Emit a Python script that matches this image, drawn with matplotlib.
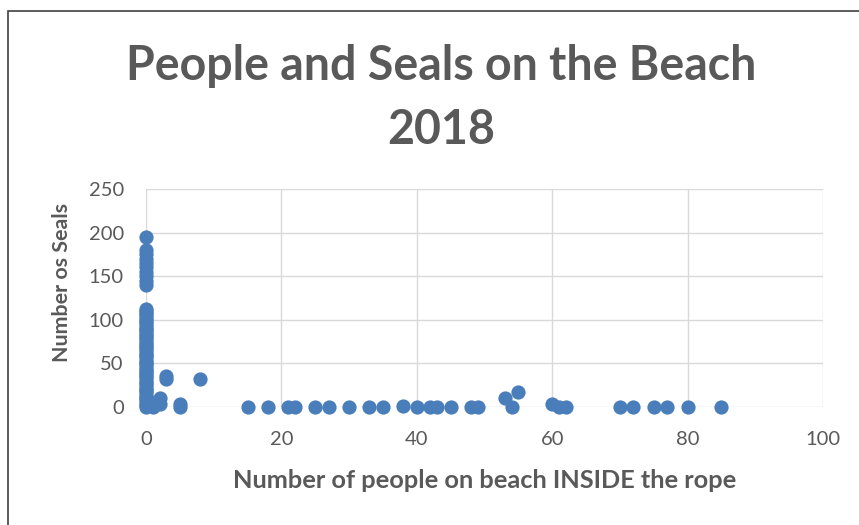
import numpy as np
import matplotlib
matplotlib.use('Agg')
import matplotlib.pyplot as plt
from matplotlib.patches import Rectangle

# people inside the rope vs number of seals
people = [0]*56 + [1, 1, 2, 2, 3, 3, 5, 5, 8,
          15, 18, 21, 22, 25, 27, 30, 33, 35, 38, 40, 42, 43, 45, 48, 49,
          53, 54, 55, 60, 61, 62, 70, 72, 75, 77, 80, 85]
seals = [0, 2, 5, 8, 10, 12, 15, 18, 20, 22, 25, 28, 30, 33, 35, 38, 40, 42,
         45, 48, 50, 52, 55, 58, 60, 62, 65, 68, 70, 72, 75, 78, 80, 82, 85,
         88, 90, 92, 95, 98, 100, 102, 105, 108, 110, 112,
         140, 145, 150, 155, 160, 165, 170, 175, 180, 195,
         0, 5, 10, 3, 32, 36, 0, 4, 32,
         0, 0, 0, 0, 0, 0, 0, 0, 0, 1, 0, 0, 0, 0, 0, 0,
         10, 0, 17, 3, 0, 0, 0, 0, 0, 0, 0, 0]

xticks = [0, 20, 40, 60, 80, 100]
yticks = [0, 50, 100, 150, 200, 250]

grey = '#595959'
plt.rcParams['font.family'] = ['Lato', 'DejaVu Sans']
fig = plt.figure(figsize=(8.59, 5.25), dpi=100)
fig.patches.append(Rectangle((8/859, -0.5), 2, 0.5 + 1 - 11/525, transform=fig.transFigure,
                             fill=False, edgecolor='#404040', linewidth=1.2))

ax = fig.add_axes([146/859, 1 - 407/525, (823 - 146)/859, (407 - 189)/525])
ax.scatter(people, seals, s=105, color='#4a7ebb', zorder=3, linewidths=0, clip_on=False)
ax.set_xlim(0, 100)
ax.set_ylim(0, 250)
ax.set_xticks(xticks)
ax.set_yticks(yticks)
ax.grid(True, color='#d9d9d9', linewidth=1)
ax.set_axisbelow(True)
for s in ['top', 'left', 'right', 'bottom']:
    ax.spines[s].set_visible(False)
ax.tick_params(length=0, labelsize=14.5, labelcolor=grey)
ax.tick_params(axis='x', pad=17)
ax.tick_params(axis='y', pad=16)

ax.set_xlabel('Number of people on beach INSIDE the rope', fontsize=18.3,
              fontweight='bold', color=grey)
ax.xaxis.set_label_coords(485/859, 1 - 481/525, transform=fig.transFigure)
ax.xaxis.label.set_va('center')
ax.set_ylabel('Number os Seals', fontsize=15.4, fontweight='bold', color=grey)
ax.yaxis.set_label_coords(62/859, 1 - 283/525, transform=fig.transFigure)
ax.yaxis.label.set_va('center')
fig.text(441/859, 1 - 98/525, 'People and Seals on the Beach\n2018', ha='center',
         va='center', fontsize=33.5, fontweight='bold', color=grey,
         linespacing=1.57)

fig.savefig('out.png', dpi=100)
